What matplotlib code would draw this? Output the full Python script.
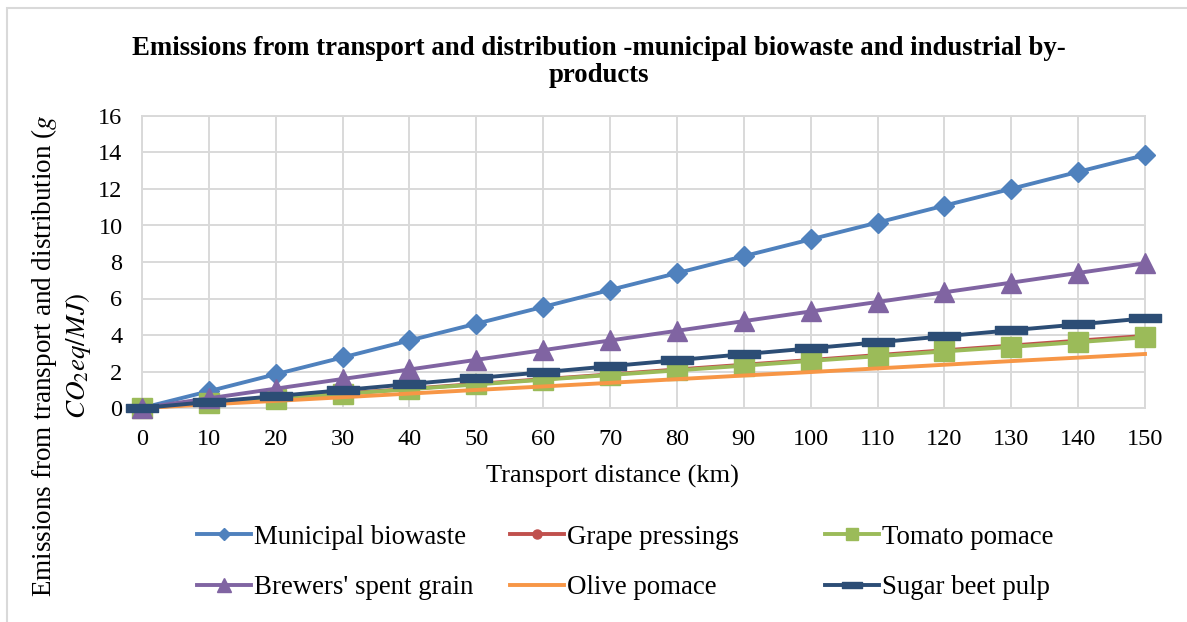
# Emissions from transport and distribution - municipal biowaste and industrial by-products
import matplotlib
matplotlib.use('Agg')
import matplotlib.pyplot as plt
from matplotlib.path import Path
from matplotlib.patches import Rectangle

# transport distance (km)
distance = [0, 10, 20, 30, 40, 50, 60, 70, 80, 90, 100, 110, 120, 130, 140, 150]

# emissions (g CO2eq/MJ)
municipal_biowaste = [0, 0.92, 1.85, 2.77, 3.70, 4.62, 5.54, 6.47, 7.39, 8.32, 9.24, 10.16, 11.09, 12.01, 12.94, 13.86]
grape_pressings = [0, 0.26, 0.53, 0.79, 1.05, 1.32, 1.58, 1.84, 2.11, 2.37, 2.63, 2.90, 3.16, 3.42, 3.69, 3.95]
tomato_pomace = [0, 0.26, 0.52, 0.77, 1.03, 1.29, 1.55, 1.81, 2.06, 2.32, 2.58, 2.84, 3.10, 3.35, 3.61, 3.87]
brewers_spent_grain = [0, 0.53, 1.06, 1.59, 2.11, 2.64, 3.17, 3.70, 4.23, 4.76, 5.29, 5.81, 6.34, 6.87, 7.40, 7.93]
olive_pomace = [0, 0.20, 0.39, 0.59, 0.79, 0.99, 1.18, 1.38, 1.58, 1.78, 1.97, 2.17, 2.37, 2.57, 2.76, 2.96]
sugar_beet_pulp = [0, 0.33, 0.65, 0.98, 1.31, 1.64, 1.96, 2.29, 2.62, 2.95, 3.27, 3.60, 3.93, 4.26, 4.58, 4.91]

x_ticks = [0, 10, 20, 30, 40, 50, 60, 70, 80, 90, 100, 110, 120, 130, 140, 150]
y_ticks = [0, 2, 4, 6, 8, 10, 12, 14, 16]

plt.rcParams['font.family'] = ['Liberation Serif', 'DejaVu Serif']
plt.rcParams['mathtext.fontset'] = 'stix'

# excel style "dash" marker
dash = Path([(-2, -0.5), (2, -0.5), (2, 0.5), (-2, 0.5), (-2, -0.5)],
            [Path.MOVETO, Path.LINETO, Path.LINETO, Path.LINETO, Path.CLOSEPOLY])

series = [
    ('Municipal biowaste', municipal_biowaste, '#4F81BD', 'D', 10),
    ('Grape pressings', grape_pressings, '#C0504D', 'o', 10),
    ('Tomato pomace', tomato_pomace, '#9BBB59', 's', 14),
    ("Brewers' spent grain", brewers_spent_grain, '#8064A2', '^', 15),
    ('Olive pomace', olive_pomace, '#F79646', None, 0),
    ('Sugar beet pulp', sugar_beet_pulp, '#2C4D75', dash, 23),
]

W, H = 1187, 622
fig = plt.figure(figsize=(W / 100, H / 100), dpi=100)
ax = fig.add_axes([142 / W, 1 - 408 / H, 1003 / W, 292 / H])

handles = []
for label, values, color, marker, ms in series:
    h, = ax.plot(distance, values, color=color, lw=2.8, marker=marker, markersize=ms,
                 markerfacecolor=color, markeredgecolor=color, markeredgewidth=1,
                 label=label, clip_on=False, zorder=3)
    handles.append(h)

ax.set_xlim(0, 150)
ax.set_ylim(0, 16)
ax.set_xticks(x_ticks)
ax.set_yticks(y_ticks)
ax.tick_params(axis='both', length=0, labelsize=17.5)
ax.tick_params(axis='x', pad=15)
ax.tick_params(axis='y', pad=14)
ax.grid(True, color='#D9D9D9', lw=1.4)
ax.set_axisbelow(True)
for s in ax.spines.values():
    s.set_color('#D9D9D9')
    s.set_linewidth(1.4)

ax.set_xlabel('Transport distance (km)', fontsize=19)
ax.xaxis.set_label_coords((612 - 142) / 1003, (408 - 465) / 292)
ax.set_ylabel('Emissions from transport and distribution ($g$\n$CO_2eq/MJ)$',
              fontsize=19.5, ha='center', va='center', multialignment='center',
              rotation_mode='default')
ax.yaxis.set_label_coords((61 - 142) / 1003, (408 - 356) / 292)

fig.text(599 / W, 1 - 62 / H,
         'Emissions from transport and distribution -municipal biowaste and industrial by-\nproducts',
         ha='center', va='center', fontsize=19.3, fontweight='bold', linespacing=1.1)

# legend: three columns of two rows, like excel
for i, x0 in enumerate([197, 510, 825]):
    fig.legend(handles=[handles[i], handles[i + 3]], loc='center left',
               bbox_to_anchor=(x0 / W, 1 - 562.5 / H), frameon=False, fontsize=19.4,
               handlelength=2.0, handletextpad=0.1, borderpad=0, borderaxespad=0,
               labelspacing=0.95, markerscale=0.65)

# chart border
fig.patches.append(Rectangle((7 / W, -0.1), 1.2, 1.1 - 8 / H, transform=fig.transFigure,
                             fill=False, edgecolor='#D9D9D9', lw=1.5))

fig.savefig('out.png', dpi=100)
